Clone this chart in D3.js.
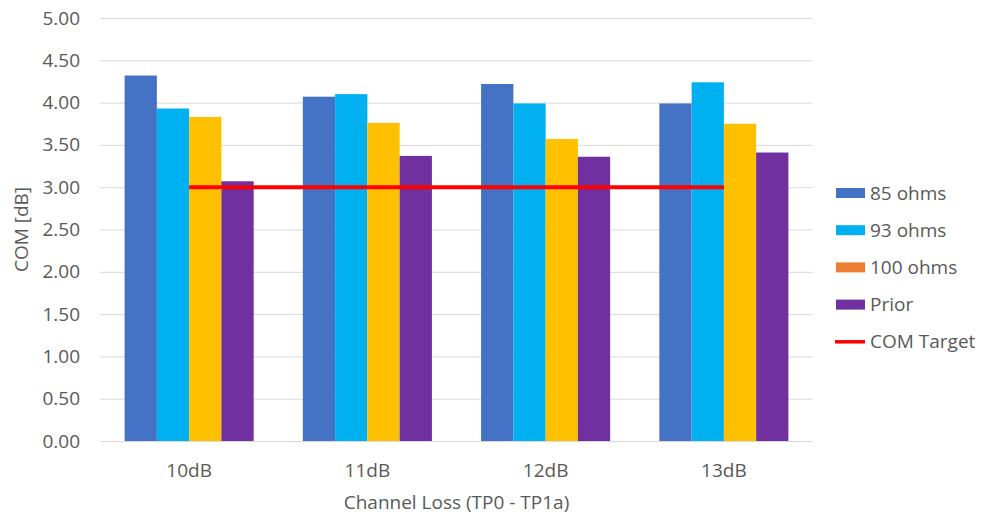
<!DOCTYPE html>
<html>
<head>
<meta charset="utf-8">
<script src="https://cdn.jsdelivr.net/npm/d3@7"></script>
<style>
  html, body { margin: 0; padding: 0; background: #ffffff; }
  svg { display: block; }
  text { font-family: "Open Sans", "Noto Sans", sans-serif; fill: #595959; }
</style>
</head>
<body>
<svg id="chart" width="982" height="516"></svg>
<script>
// ---- data ----
const categories = ["10dB", "11dB", "12dB", "13dB"];
const seriesNames = ["85 ohms", "93 ohms", "100 ohms", "Prior"];
const ohms85 = [4.32, 4.07, 4.22, 3.99];
const ohms93 = [3.93, 4.10, 3.99, 4.24];
const ohms100 = [3.83, 3.76, 3.57, 3.75];
const prior = [3.07, 3.37, 3.36, 3.41];
const comTarget = [3.00, 3.00, 3.00, 3.00];
const targetName = "COM Target";
const yTicks = [0, 0.5, 1, 1.5, 2, 2.5, 3, 3.5, 4, 4.5, 5];
const xTitle = "Channel Loss (TP0 - TP1a)";
const yTitle = "COM [dB]";

// ---- styles ----
const barColors = ["#4472C4", "#00B0F0", "#FFC000", "#7030A0"];
const legendColors = ["#4472C4", "#00B0F0", "#ED7D31", "#7030A0"];
const targetColor = "#FF0000";

const seriesValues = [ohms85, ohms93, ohms100, prior];

const svg = d3.select("#chart");
const margin = { left: 100, right: 169, top: 18, bottom: 75 };
const W = 982, H = 516;
const plotW = W - margin.left - margin.right;
const plotH = H - margin.top - margin.bottom;

const g = svg.append("g").attr("transform", `translate(${margin.left},${margin.top})`);

const x = d3.scaleBand().domain(categories).range([0, plotW]).padding(0);
const bw = x.bandwidth();
const xs = d3.scaleBand().domain(seriesNames).range([bw * 0.138, bw * 0.862]).padding(0);
const y = d3.scaleLinear().domain([0, 5]).range([plotH, 0]);

// y axis with gridlines
const yAxis = g.append("g")
  .call(d3.axisLeft(y).tickValues(yTicks).tickFormat(d3.format(".2f")).tickSize(-plotW).tickPadding(20));
yAxis.select(".domain").remove();
yAxis.selectAll(".tick line").attr("stroke", "#D9D9D9").attr("stroke-width", 1);
yAxis.selectAll(".tick text").attr("font-size", 19).attr("fill", "#595959")
  .style("font-family", '"Open Sans", sans-serif');

// bars
const groups = g.selectAll(".cat")
  .data(categories)
  .join("g")
  .attr("transform", d => `translate(${x(d)},0)`);

groups.selectAll("rect")
  .data((c, ci) => seriesNames.map((s, si) => ({ s, si, v: seriesValues[si][ci] })))
  .join("rect")
  .attr("x", d => xs(d.s))
  .attr("width", xs.bandwidth())
  .attr("y", d => y(d.v))
  .attr("height", d => plotH - y(d.v))
  .attr("fill", d => barColors[d.si]);

// COM target line
const line = d3.line()
  .x((d, i) => x(categories[i]) + bw / 2)
  .y(d => y(d));
g.append("path")
  .datum(comTarget)
  .attr("d", line)
  .attr("fill", "none")
  .attr("stroke", targetColor)
  .attr("stroke-width", 4);

// x axis labels
const xAxis = g.append("g")
  .attr("transform", `translate(0,${plotH})`)
  .call(d3.axisBottom(x).tickSize(0).tickPadding(0));
xAxis.select(".domain").remove();
xAxis.selectAll(".tick text")
  .attr("y", 36).attr("dy", 0)
  .attr("font-size", 19).attr("fill", "#595959")
  .style("font-family", '"Open Sans", sans-serif');

// axis titles
svg.append("text")
  .attr("x", margin.left + plotW / 2)
  .attr("y", 509)
  .attr("text-anchor", "middle")
  .attr("font-size", 19)
  .text(xTitle);

svg.append("text")
  .attr("transform", `translate(28,${margin.top + plotH / 2}) rotate(-90)`)
  .attr("text-anchor", "middle")
  .attr("font-size", 19)
  .text(yTitle);

// legend
const legendItems = seriesNames.map((s, i) => ({ name: s, color: legendColors[i], type: "bar" }))
  .concat([{ name: targetName, color: targetColor, type: "line" }]);
const legend = svg.append("g").attr("transform", "translate(836,193)");
const li = legend.selectAll("g")
  .data(legendItems)
  .join("g")
  .attr("transform", (d, i) => `translate(0,${i * 37.2})`);
li.filter(d => d.type === "bar").append("rect")
  .attr("x", 0).attr("y", -5).attr("width", 29).attr("height", 10)
  .attr("fill", d => d.color);
li.filter(d => d.type === "line").append("line")
  .attr("x1", -1).attr("x2", 29).attr("y1", 0).attr("y2", 0)
  .attr("stroke", d => d.color).attr("stroke-width", 3.5);
li.append("text")
  .attr("x", 34).attr("y", 0).attr("dy", "0.35em")
  .attr("font-size", 19)
  .text(d => d.name);
</script>
</body>
</html>
